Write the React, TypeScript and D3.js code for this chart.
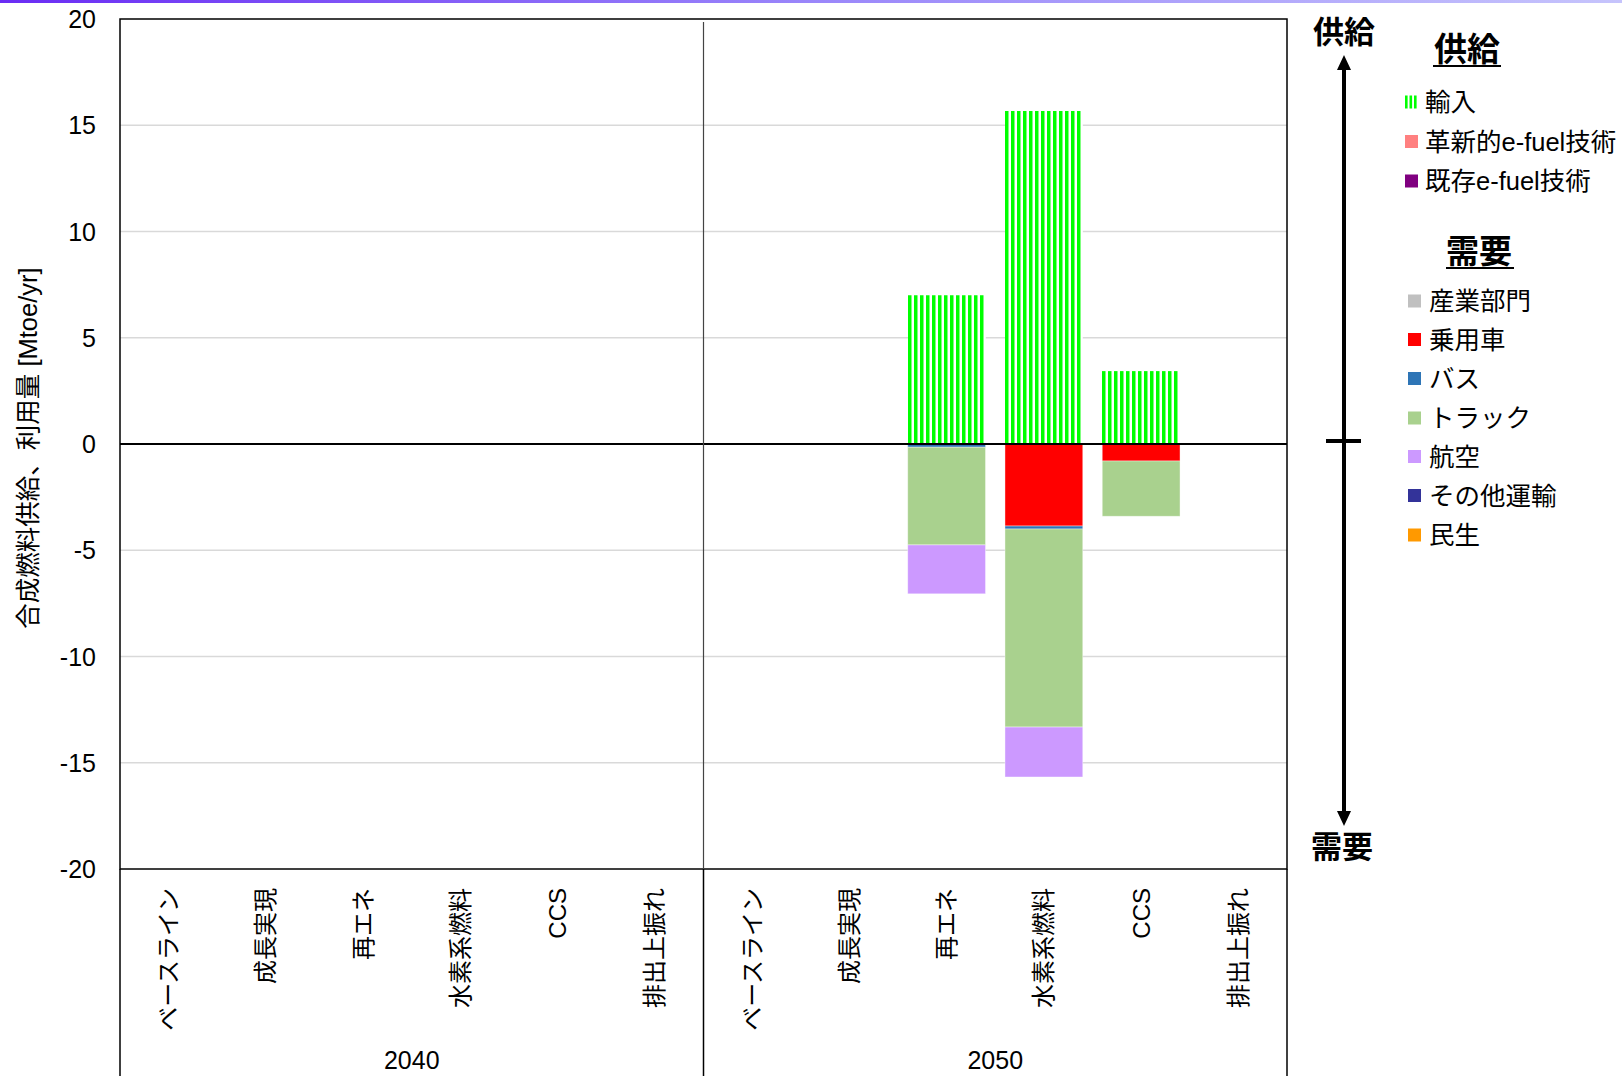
import React from "react";
import * as d3 from "d3";

// ---- data ----
const years = ["2040", "2050"];
const scenarios = ["ベースライン", "成長実現", "再エネ", "水素系燃料", "CCS", "排出上振れ"];
const supplyKeys = ["輸入", "革新的e-fuel技術", "既存e-fuel技術"];
const demandKeys = ["産業部門", "乗用車", "バス", "トラック", "航空", "その他運輸", "民生"];

// values per category (2040 x6, then 2050 x6)
const importVals = [0, 0, 0, 0, 0, 0, 0, 0, 7.0, 15.67, 3.43, 0];
const innovativeVals = [0, 0, 0, 0, 0, 0, 0, 0, 0, 0, 0, 0];
const existingVals = [0, 0, 0, 0, 0, 0, 0, 0, 0, 0, 0, 0];
const industryVals = [0, 0, 0, 0, 0, 0, 0, 0, 0, 0, 0, 0];
const carVals = [0, 0, 0, 0, 0, 0, 0, 0, 0, 3.86, 0.8, 0];
const busVals = [0, 0, 0, 0, 0, 0, 0, 0, 0.15, 0.14, 0, 0];
const truckVals = [0, 0, 0, 0, 0, 0, 0, 0, 4.6, 9.32, 2.6, 0];
const aviationVals = [0, 0, 0, 0, 0, 0, 0, 0, 2.3, 2.35, 0, 0];
const otherVals = [0, 0, 0, 0, 0, 0, 0, 0, 0, 0, 0, 0];
const residentialVals = [0, 0, 0, 0, 0, 0, 0, 0, 0, 0, 0, 0];

const yTicks = [20, 15, 10, 5, 0, -5, -10, -15, -20];

const colors: Record<string, string> = {
  "輸入": "#00ff00",
  "革新的e-fuel技術": "#ff8080",
  "既存e-fuel技術": "#800080",
  "産業部門": "#c0c0c0",
  "乗用車": "#ff0000",
  "バス": "#2e75b6",
  "トラック": "#a9d18e",
  "航空": "#cc99ff",
  "その他運輸": "#333399",
  "民生": "#ff9900",
};

const FONT = "'Liberation Sans', Arial, 'Noto Sans CJK JP', sans-serif";

export default function App() {
  const W = 1622, H = 1076;
  const left = 120, right = 1287, top = 19, bottom = 869;

  const categories = years.flatMap((y) => scenarios.map((s) => `${y}|${s}`));
  const rows = categories.map((c, i) => ({
    cat: c,
    "輸入": importVals[i],
    "革新的e-fuel技術": innovativeVals[i],
    "既存e-fuel技術": existingVals[i],
    "産業部門": -industryVals[i],
    "乗用車": -carVals[i],
    "バス": -busVals[i],
    "トラック": -truckVals[i],
    "航空": -aviationVals[i],
    "その他運輸": -otherVals[i],
    "民生": -residentialVals[i],
  }));

  const keys = [...supplyKeys, ...demandKeys];
  const series = d3.stack<any>().keys(keys).offset(d3.stackOffsetDiverging)(rows);

  const x = d3.scaleBand<string>().domain(categories).range([left, right]).paddingInner(0.2).paddingOuter(0.1);
  const step = (right - left) / categories.length;
  const y = d3.scaleLinear().domain([-20, 20]).range([bottom, top]);

  const mid = left + step * scenarios.length;

  const supplyLegendY = [102, 141.5, 181];
  const demandLegendY = [301, 339.5, 378.5, 418, 456.5, 495.5, 535];

  return (
    <svg width={W} height={H} style={{ position: "absolute", left: 0, top: 0, background: "#fff" }} fontFamily={FONT}>
      <defs>
        <linearGradient id="topbar" x1="0" x2="1" y1="0" y2="0">
          <stop offset="0" stopColor="#6a2cf4" />
          <stop offset="0.5" stopColor="#9a86fa" />
          <stop offset="1" stopColor="#c6c4fc" />
        </linearGradient>
        {categories.map((c, i) => (
          <pattern key={c} id={`importPat${i}`} patternUnits="userSpaceOnUse" width={6} height={10} x={Math.round(x(c) as number)} y={0}>
            <rect x={0} y={0} width={6} height={10} fill="#ffffff" />
            <rect x={0} y={0} width={3.5} height={10} fill="#00ff00" />
          </pattern>
        ))}
      </defs>
      <rect x={0} y={0} width={W} height={3} fill="url(#topbar)" />

      {/* gridlines */}
      {yTicks.filter((t) => t !== 0 && t !== 20 && t !== -20).map((t) => (
        <line key={t} x1={left} x2={right} y1={y(t)} y2={y(t)} stroke="#d9d9d9" strokeWidth={1.5} />
      ))}

      {/* bars */}
      {series.map((s) => (
        <g key={s.key}>
          {s.map((d, i) => {
            const y0 = y(Math.max(d[0], d[1]));
            const y1 = y(Math.min(d[0], d[1]));
            const h = y1 - y0;
            if (h <= 0.01) return null;
            const isImport = s.key === "輸入";
            const fill = isImport ? `url(#importPat${i})` : colors[s.key];
            return (
              <rect key={i} x={isImport ? Math.round(x(categories[i]) as number) : x(categories[i])} y={y0}
                width={x.bandwidth()} height={h} fill={fill}
                stroke={isImport ? "none" : "rgba(255,255,255,0.5)"} strokeWidth={0.8} />
            );
          })}
        </g>
      ))}

      {/* zero line */}
      <line x1={left} x2={right} y1={y(0)} y2={y(0)} stroke="#000" strokeWidth={1.8} />

      {/* plot frame */}
      <rect x={left} y={top} width={right - left} height={bottom - top} fill="none" stroke="#000" strokeWidth={1.5} />
      <line x1={mid} x2={mid} y1={top + 3} y2={bottom} stroke="#444" strokeWidth={1.2} />
      {/* lower category area lines */}
      <line x1={left} x2={left} y1={bottom} y2={H} stroke="#000" strokeWidth={1.5} />
      <line x1={mid} x2={mid} y1={bottom} y2={H} stroke="#000" strokeWidth={1.5} />
      <line x1={right} x2={right} y1={bottom} y2={H} stroke="#000" strokeWidth={1.5} />

      {/* y ticks */}
      {yTicks.map((t) => (
        <text key={t} x={96} y={y(t)} textAnchor="end" dominantBaseline="central" fontSize={25} fill="#000">{t}</text>
      ))}

      {/* y title */}
      <text transform={`translate(28,${448}) rotate(-90)`} textAnchor="middle" dominantBaseline="central" fontSize={25.5} fill="#000">
        合成燃料供給、利用量 [Mtoe/yr]
      </text>

      {/* x category labels */}
      {categories.map((c) => {
        const cx = (x(c) as number) + x.bandwidth() / 2;
        const label = c.split("|")[1];
        return (
          <text key={c} transform={`translate(${cx},${888}) rotate(-90)`} textAnchor="end" dominantBaseline="central" fontSize={24} fill="#000">
            {label}
          </text>
        );
      })}
      {years.map((yr, gi) => (
        <text key={yr} x={left + step * scenarios.length * (gi + 0.5)} y={1060} textAnchor="middle" dominantBaseline="central" fontSize={25} fill="#000">
          {yr}
        </text>
      ))}

      {/* supply/demand arrow */}
      <line x1={1344} x2={1344} y1={68} y2={812} stroke="#000" strokeWidth={4} />
      <path d="M1344,55 L1337,70 L1351,70 Z" fill="#000" />
      <path d="M1344,826 L1337,811 L1351,811 Z" fill="#000" />
      <line x1={1326} x2={1361} y1={441} y2={441} stroke="#000" strokeWidth={4} />
      <text x={1344} y={32} textAnchor="middle" dominantBaseline="central" fontSize={31} fontWeight="bold" fill="#000">供給</text>
      <text x={1342} y={847} textAnchor="middle" dominantBaseline="central" fontSize={31} fontWeight="bold" fill="#000">需要</text>

      {/* legend */}
      <text x={1467} y={49} textAnchor="middle" dominantBaseline="central" fontSize={33} fontWeight="bold" fill="#000">供給</text>
      <line x1={1433} x2={1501} y1={66} y2={66} stroke="#000" strokeWidth={2} />
      {supplyKeys.map((k, i) => (
        <g key={k}>
          {k === "輸入" ? (
            <g>
              {[0, 1, 2].map((j) => (
                <rect key={j} x={1405 + j * 4.5} y={supplyLegendY[i] - 6.5} width={2.6} height={13} fill="#00ff00" />
              ))}
            </g>
          ) : (
            <rect x={1405} y={supplyLegendY[i] - 6.5} width={13} height={13} fill={colors[k]} />
          )}
          <text x={1425} y={supplyLegendY[i]} dominantBaseline="central" fontSize={25.5} fill="#000">{k}</text>
        </g>
      ))}
      <text x={1479} y={251} textAnchor="middle" dominantBaseline="central" fontSize={33} fontWeight="bold" fill="#000">需要</text>
      <line x1={1446} x2={1514} y1={268} y2={268} stroke="#000" strokeWidth={2} />
      {demandKeys.map((k, i) => (
        <g key={k}>
          <rect x={1408} y={demandLegendY[i] - 6.5} width={13} height={13} fill={colors[k]} />
          <text x={1429} y={demandLegendY[i]} dominantBaseline="central" fontSize={25.5} fill="#000">{k}</text>
        </g>
      ))}
    </svg>
  );
}
